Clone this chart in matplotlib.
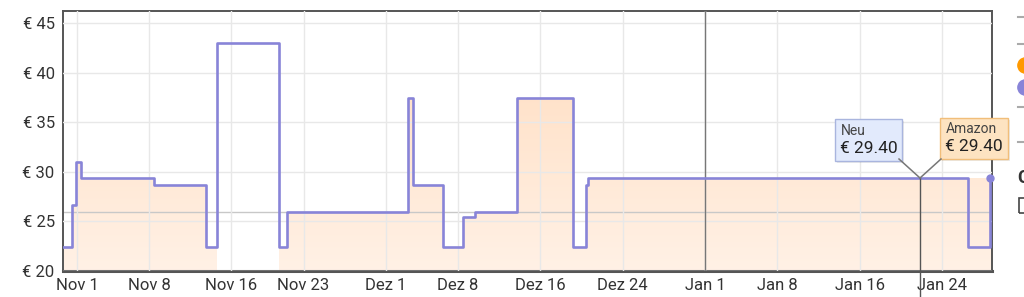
import numpy as np
import matplotlib.pyplot as plt
from matplotlib.lines import Line2D
from matplotlib.patches import Rectangle

plt.rcParams['font.family'] = ['Roboto', 'DejaVu Sans']

# x values are days counted from Nov 1
tick_days = [0, 7, 15, 22, 30, 37, 45, 53, 61, 68, 76, 84]
tick_labels = ['Nov 1', 'Nov 8', 'Nov 16', 'Nov 23', 'Dez 1', 'Dez 8',
               'Dez 16', 'Dez 24', 'Jan 1', 'Jan 8', 'Jan 16', 'Jan 24']
month_starts = [0, 30]
year_start = 61
price_ticks = [20, 25, 30, 35, 40, 45]

neu_days = [-1.36, -0.5, -0.13, 0.36, 7.48, 12.52, 13.6, 19.6, 20.4, 32.1,
            32.6, 35.5, 37.5, 38.6, 42.7, 48.2, 49.4, 49.6, 86.5, 88.64]
neu_prices = [22.45, 26.65, 31.0, 29.4, 28.67, 22.45, 42.95, 22.45, 25.98, 37.4,
              28.67, 22.45, 25.47, 25.98, 37.4, 22.45, 28.7, 29.4, 22.45, 29.4]

amazon_days = [-1.36, -0.5, -0.13, 0.36, 7.48, 12.52, 13.6, 19.6, 20.4, 32.1,
               32.6, 35.5, 37.5, 38.6, 42.7, 48.2, 49.4, 49.6, 88.85]
amazon_prices = [22.45, 26.65, 31.0, 29.4, 28.67, 22.45, np.nan, 22.45, 25.98, 37.4,
                 28.67, 22.45, 25.47, 25.98, 37.4, 22.45, 28.7, 29.4, 29.4]

ref_price = 25.98
hover_day = 81.85
hover_price = 29.4

xmin, xmax = -1.36, 88.85
ymin, ymax = 20, 46.2

purple = '#8884d8'


def to_steps(days, prices):
    x = np.repeat(days, 2)[1:]
    y = np.repeat(prices, 2)[:-1]
    return x, y


def fx(x):
    return x / 1024


def fy(y):
    return 1 - y / 297


fig = plt.figure(figsize=(10.24, 2.97), dpi=100)
ax = fig.add_axes([fx(63), fy(271), 929 / 1024, 260 / 297])

# amazon area with a soft vertical gradient
sx, sy = to_steps(amazon_days, amazon_prices)
mask = ~np.isnan(sy)
poly = ax.fill_between(sx, ymin, np.nan_to_num(sy, nan=ymin), where=mask,
                       step=None, facecolor='#ffe9d6', edgecolor='none', zorder=1)
bottom = np.array([1.0, 0.945, 0.90])
top = np.array([1.0, 0.86, 0.74])
t = np.linspace(0, 1, 256)[:, None]
grad = (bottom + (top - bottom) * t)[:, None, :]
im = ax.imshow(grad, extent=[xmin, xmax, ymin, ymax], origin='lower',
               aspect='auto', zorder=1.1)
from matplotlib.path import Path
clip = Path.make_compound_path(*poly.get_paths())
im.set_clip_path(clip, transform=ax.transData)

# neu price line
ax.plot(neu_days, neu_prices, drawstyle='steps-post', color=purple, lw=1.9, zorder=3)
ax.plot(neu_days[-1], neu_prices[-1], 'o', ms=5, color=purple, zorder=3, clip_on=False)

ax.axhline(ref_price, color='#c8c8c8', lw=1, zorder=2)
ax.axvline(year_start, color='#777777', lw=1, zorder=2.6)

ax.set_xlim(xmin, xmax)
ax.set_ylim(ymin, ymax)
ax.set_xticks(tick_days, tick_labels)
ax.set_xticks(month_starts, minor=True)
ax.set_yticks(price_ticks, [f'€ {p}' for p in price_ticks])
ax.grid(color='#e8e8e8', lw=1)
ax.set_axisbelow(False)
for gl in ax.get_xgridlines() + ax.get_ygridlines():
    gl.set_zorder(1.5)
ax.tick_params(which='major', length=0, labelsize=12, labelcolor='#333333')
ax.tick_params(axis='x', pad=5)
ax.tick_params(axis='y', pad=6)
ax.tick_params(which='minor', direction='in', length=4, width=1.5, color='#999999')
for side, sp in ax.spines.items():
    sp.set_color('#555555')
    sp.set_linewidth(1.4)
ax.spines['bottom'].set_linewidth(2.2)

# hover crosshair and tooltips
ax.plot([hover_day, hover_day], [hover_price, 17.3], color='#555555', lw=1,
        zorder=4, clip_on=False)
fig.add_artist(Line2D([fx(899), fx(920)], [fy(159), fy(178)], color='#777777',
                      lw=1.1, transform=fig.transFigure))
fig.add_artist(Line2D([fx(941), fx(920)], [fy(159), fy(178)], color='#777777',
                      lw=1.1, transform=fig.transFigure))

for (x0, y0, x1, y1, face, edge) in [(835, 119, 902, 161, '#e2eafc', '#a9b5de'),
                                     (940, 118, 1008, 159, '#fde3c1', '#f1be7a')]:
    fig.add_artist(Rectangle((fx(x0 + 2), fy(y1 + 2)), (x1 - x0) / 1024, (y1 - y0) / 297,
                             transform=fig.transFigure, facecolor='#000000',
                             alpha=0.08, edgecolor='none'))
    fig.add_artist(Rectangle((fx(x0), fy(y1)), (x1 - x0) / 1024, (y1 - y0) / 297,
                             transform=fig.transFigure, facecolor=face,
                             edgecolor=edge, lw=1))

fig.text(fx(841), fy(135), 'Neu', fontsize=10, color='#444444', va='baseline')
fig.text(fx(840), fy(153), f'€ {hover_price:.2f}', fontsize=12.5, color='#222222', va='baseline')
fig.text(fx(946), fy(133), 'Amazon', fontsize=10, color='#444444', va='baseline')
fig.text(fx(945), fy(151), f'€ {hover_price:.2f}', fontsize=12.5, color='#222222', va='baseline')

# legend column cut off at the right edge
for y in [17, 44, 107, 142]:
    fig.add_artist(Line2D([fx(1018), fx(1026)], [fy(y), fy(y)], color='#aaaaaa',
                          lw=1.5, transform=fig.transFigure))
fig.add_artist(Line2D([fx(1025)], [fy(65)], marker='o', ms=11, color='#ff9900',
                      transform=fig.transFigure))
fig.add_artist(Line2D([fx(1025)], [fy(87)], marker='o', ms=11, color=purple,
                      transform=fig.transFigure))
fig.text(fx(1017), fy(178), 'C', fontsize=13, fontweight='bold', color='#333333', va='center')
fig.add_artist(Rectangle((fx(1019), fy(213)), 8 / 1024, 15 / 297, transform=fig.transFigure,
                         facecolor='none', edgecolor='#444444', lw=1.2))

fig.savefig('out.png', dpi=100)
